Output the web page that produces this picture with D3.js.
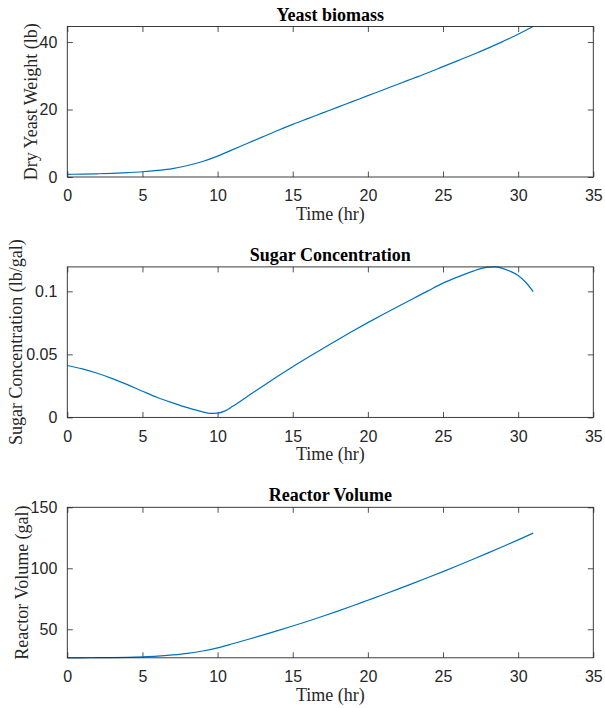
<!DOCTYPE html>
<html>
<head>
<meta charset="utf-8">
<script src="https://cdn.jsdelivr.net/npm/d3@7"></script>
<style>
  html, body { margin: 0; padding: 0; background: #ffffff; }
  svg { display: block; }
</style>
</head>
<body>
<svg id="chart" width="605" height="708"></svg>
<script>
// ---------- data ----------
const xTicks = [0, 5, 10, 15, 20, 25, 30, 35];

const yeastTime = [0,1,2,3,4,5,6,7,8,9,10,11,12,13,14,15,16,17,18,19,20,21,22,23,24,25,26,27,28,29,30,31];
const yeastWeight = [0.8,0.85,0.95,1.1,1.3,1.55,1.95,2.5,3.4,4.6,6.2,8.1,10.0,11.9,13.8,15.6,17.3,19.0,20.7,22.4,24.1,25.8,27.5,29.2,30.9,32.7,34.5,36.3,38.2,40.2,42.3,44.6];
const yeastTicks = [0, 20, 40];

const sugarTime = [0,1,2,3,4,5,6,7,8,9,9.5,10,10.5,11,12,13,14,15,16,17,18,19,20,21,22,23,24,25,26,27,27.5,28,28.5,29,29.5,30,30.5,31];
const sugarConc = [0.0412,0.0385,0.0350,0.0308,0.0260,0.0208,0.0158,0.0116,0.0077,0.0044,0.0032,0.0034,0.0052,0.0088,0.0168,0.0248,0.0326,0.0402,0.0475,0.0546,0.0616,0.0685,0.0752,0.0817,0.0880,0.0942,0.1004,0.1065,0.1115,0.1160,0.1180,0.1192,0.1194,0.1180,0.1158,0.1126,0.1072,0.0998];
const sugarTicks = [0, 0.05, 0.1];
const sugarTickLabels = ["0", "0.05", "0.1"];

const volTime = [0,1,2,3,4,5,6,7,8,9,10,11,12,13,14,15,16,17,18,19,20,21,22,23,24,25,26,27,28,29,30,31];
const volume = [26.6,26.6,26.7,26.8,27.0,27.4,28.0,29.0,30.3,32.2,34.8,38.1,41.6,45.2,48.9,52.7,56.6,60.7,64.9,69.3,73.8,78.3,82.9,87.6,92.4,97.3,102.3,107.4,112.6,117.9,123.3,128.8];
const volTicks = [50, 100, 150];

const titles = ["Yeast biomass", "Sugar Concentration", "Reactor Volume"];
const yLabels = ["Dry Yeast Weight (lb)", "Sugar Concentration (lb/gal)", "Reactor Volume (gal)"];
const xLabel = "Time (hr)";

// ---------- layout ----------
const svg = d3.select("#chart");
const left = 67.3, right = 593.3, plotH = 150.5;
const tops = [26.5, 266.9, 507.3];
const yLabelX = [30.5, 15.5, 22];
const axisColor = "#262626";
const lineColor = "#0072BD";

const panels = [
  { t: yeastTime, v: yeastWeight, domain: [0, 44.6], ticks: yeastTicks, fmt: d => String(d) },
  { t: sugarTime, v: sugarConc, domain: [0, 0.1194], ticks: sugarTicks, fmt: (d, i) => sugarTickLabels[i] },
  { t: volTime, v: volume, domain: [26.6, 150], ticks: volTicks, fmt: d => String(d) }
];

panels.forEach((p, i) => {
  const top = tops[i], bottom = top + plotH;
  const x = d3.scaleLinear().domain([0, 35]).range([left, right]);
  const y = d3.scaleLinear().domain(p.domain).range([bottom, top]);
  const g = svg.append("g");

  const xb = d3.axisBottom(x).tickValues(xTicks).tickSize(-5.5).tickPadding(13).tickFormat(d => String(d));
  const gx = g.append("g").attr("transform", `translate(0,${bottom})`).call(xb);
  const xt = d3.axisTop(x).tickValues(xTicks).tickSize(-5.5).tickFormat("");
  const gxt = g.append("g").attr("transform", `translate(0,${top})`).call(xt);
  const yl = d3.axisLeft(y).tickValues(p.ticks).tickSize(-5.5).tickPadding(10).tickFormat(p.fmt);
  const gy = g.append("g").attr("transform", `translate(${left},0)`).call(yl);
  const yr = d3.axisRight(y).tickValues(p.ticks).tickSize(-5.5).tickFormat("");
  const gyr = g.append("g").attr("transform", `translate(${right},0)`).call(yr);

  [gx, gxt, gy, gyr].forEach(a => {
    a.select(".domain").remove();
    a.selectAll(".tick line").attr("stroke", axisColor).attr("stroke-width", 0.8);
    a.selectAll(".tick text")
      .attr("fill", axisColor)
      .attr("font-family", "'Liberation Sans', Arial, sans-serif")
      .attr("font-size", 16);
  });

  const line = d3.line()
    .x((d, k) => x(p.t[k]))
    .y(d => y(d))
    .curve(d3.curveMonotoneX);
  g.append("path")
    .datum(p.v)
    .attr("d", line)
    .attr("fill", "none")
    .attr("stroke", lineColor)
    .attr("stroke-width", 1.2);

  g.append("rect")
    .attr("x", left).attr("y", top)
    .attr("width", right - left).attr("height", plotH)
    .attr("fill", "none")
    .attr("stroke", axisColor)
    .attr("stroke-width", 0.9);

  g.append("text")
    .attr("x", (left + right) / 2).attr("y", top - 6)
    .attr("text-anchor", "middle")
    .attr("font-family", "'Liberation Serif', 'Times New Roman', serif")
    .attr("font-weight", "bold")
    .attr("font-size", 18)
    .attr("fill", "#000")
    .text(titles[i]);

  g.append("text")
    .attr("x", (left + right) / 2).attr("y", bottom + 43)
    .attr("text-anchor", "middle")
    .attr("font-family", "'Liberation Serif', 'Times New Roman', serif")
    .attr("font-size", 18)
    .attr("fill", axisColor)
    .text(xLabel);

  g.append("text")
    .attr("transform", `translate(${yLabelX[i]},${(top + bottom) / 2}) rotate(-90)`)
    .attr("text-anchor", "middle")
    .attr("dominant-baseline", "central")
    .attr("font-family", "'Liberation Serif', 'Times New Roman', serif")
    .attr("font-size", 18)
    .attr("fill", axisColor)
    .text(yLabels[i]);
});
</script>
</body>
</html>
